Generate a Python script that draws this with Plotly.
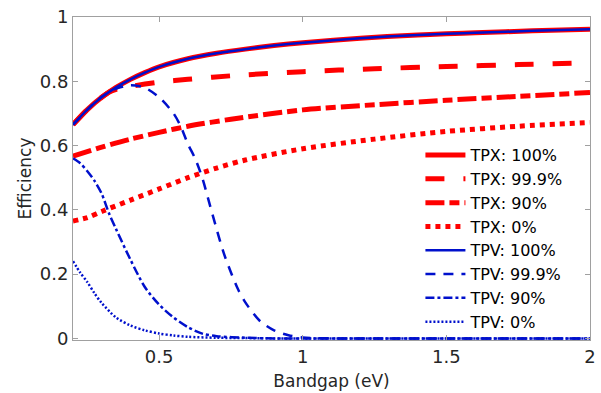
import plotly.graph_objects as go

# ---- data ----
tpx100_x = [0.2, 0.25, 0.3, 0.35, 0.4, 0.45, 0.5, 0.6, 0.7, 0.8, 0.9, 1.0, 1.2, 1.4, 1.5, 1.6, 1.8, 2.0]
tpx100_y = [0.665, 0.712, 0.750, 0.781, 0.806, 0.827, 0.845, 0.870, 0.887, 0.900, 0.911, 0.920, 0.934, 0.944, 0.948, 0.951, 0.957, 0.962]

tpx999_x = [0.2, 0.25, 0.3, 0.33, 0.36, 0.4, 0.5, 0.6, 0.75, 1.0, 1.25, 1.5, 1.75, 2.0]
tpx999_y = [0.665, 0.712, 0.750, 0.768, 0.777, 0.784, 0.797, 0.806, 0.817, 0.830, 0.839, 0.846, 0.852, 0.857]

tpx90_x = [0.2, 0.3, 0.4, 0.5, 0.6, 0.75, 1.0, 1.25, 1.5, 1.75, 2.0]
tpx90_y = [0.567, 0.595, 0.62, 0.641, 0.66, 0.682, 0.711, 0.727, 0.741, 0.753, 0.765]

tpx0_x = [0.2, 0.25, 0.3, 0.4, 0.5, 0.6, 0.7, 0.8, 1.0, 1.25, 1.5, 1.75, 2.0]
tpx0_y = [0.365, 0.376, 0.395, 0.43, 0.465, 0.5, 0.53, 0.555, 0.59, 0.62, 0.644, 0.66, 0.672]

tpv100_x = [0.2, 0.25, 0.3, 0.35, 0.4, 0.45, 0.5, 0.6, 0.7, 0.8, 0.9, 1.0, 1.2, 1.4, 1.5, 1.6, 1.8, 2.0]
tpv100_y = [0.665, 0.712, 0.750, 0.781, 0.806, 0.827, 0.845, 0.870, 0.887, 0.900, 0.911, 0.920, 0.934, 0.944, 0.948, 0.951, 0.957, 0.962]

tpv999_x = [0.2, 0.25, 0.3, 0.35, 0.4, 0.45, 0.5, 0.55, 0.575, 0.6, 0.625, 0.65, 0.675, 0.7, 0.725, 0.75, 0.775, 0.8, 0.85, 0.9, 0.95, 1.0, 1.1, 1.25, 1.5, 1.75, 2.0]
tpv999_y = [0.665, 0.712, 0.752, 0.777, 0.788, 0.78, 0.75, 0.70, 0.66, 0.605, 0.56, 0.50, 0.42, 0.34, 0.265, 0.205, 0.152, 0.112, 0.055, 0.025, 0.01, 0.003, 0.0, 0.0, 0.0, 0.0, 0.0]

tpv90_x = [0.2, 0.225, 0.25, 0.275, 0.3, 0.325, 0.35, 0.4, 0.45, 0.5, 0.55, 0.6, 0.65, 0.7, 0.8, 0.9, 1.25, 1.5, 1.75, 2.0]
tpv90_y = [0.56, 0.545, 0.52, 0.49, 0.45, 0.39, 0.34, 0.245, 0.16, 0.105, 0.065, 0.035, 0.015, 0.007, 0.002, 0.0, 0.0, 0.0, 0.0, 0.0]

tpv0_x = [0.2, 0.225, 0.25, 0.275, 0.3, 0.35, 0.4, 0.45, 0.5, 0.55, 0.6, 0.7, 0.8, 0.9, 1.25, 1.5, 1.75, 2.0]
tpv0_y = [0.24, 0.205, 0.175, 0.14, 0.11, 0.065, 0.04, 0.025, 0.015, 0.009, 0.005, 0.002, 0.001, 0.0, 0.0, 0.0, 0.0, 0.0]

x_tick_vals = [0.5, 1, 1.5, 2]
x_tick_text = ["0.5", "1", "1.5", "2"]
y_tick_vals = [0, 0.2, 0.4, 0.6, 0.8, 1]
y_tick_text = ["0", "0.2", "0.4", "0.6", "0.8", "1"]

RED = "#FF0000"
BLUE = "#0010CC"

series = [
    ("TPX: 100%", tpx100_x, tpx100_y, RED, 5, "solid"),
    ("TPX: 99.9%", tpx999_x, tpx999_y, RED, 5, "19px,19px"),
    ("TPX: 90%", tpx90_x, tpx90_y, RED, 5, "19px,5px,10px,5px"),
    ("TPX: 0%", tpx0_x, tpx0_y, RED, 5, "5px,5px"),
    ("TPV: 100%", tpv100_x, tpv100_y, BLUE, 2.5, "solid"),
    ("TPV: 99.9%", tpv999_x, tpv999_y, BLUE, 2.5, "10px,8px"),
    ("TPV: 90%", tpv90_x, tpv90_y, BLUE, 2.5, "9px,3px,3px,3px"),
    ("TPV: 0%", tpv0_x, tpv0_y, BLUE, 2.5, "2px,2px"),
]

fig = go.Figure()
for name, xs, ys, col, w, dash in series:
    fig.add_trace(go.Scatter(
        x=xs, y=ys, mode="lines", name=name,
        line=dict(color=col, width=w, dash=dash, shape="spline", smoothing=0.8),
    ))

FONT = "DejaVu Sans"
AX = "#A0A0A0"
TXT = "#262626"

fig.update_layout(
    width=601, height=393,
    margin=dict(l=73, r=11, t=17, b=53, autoexpand=False),
    paper_bgcolor="white", plot_bgcolor="white",
    font=dict(family=FONT, size=17, color=TXT),
    showlegend=True,
    legend=dict(
        x=0.672, y=0.625, xanchor="left", yanchor="top",
        bgcolor="rgba(255,255,255,0)", borderwidth=0,
        font=dict(family=FONT, size=16, color="#000000"),
        itemwidth=40, tracegroupgap=0,
    ),
    xaxis=dict(
        range=[0.2, 2], tickmode="array", tickvals=x_tick_vals, ticktext=x_tick_text,
        automargin=False,
        showgrid=False, zeroline=False, showline=True, linecolor=AX, linewidth=1,
        mirror="allticks", ticks="inside", ticklen=5, tickcolor=AX,
        tickfont=dict(family=FONT, size=18, color=TXT),
        title=dict(text="Bandgap (eV)", font=dict(family=FONT, size=17, color=TXT), standoff=9),
    ),
    yaxis=dict(
        range=[-0.005, 1], tickmode="array", tickvals=y_tick_vals, ticktext=y_tick_text,
        automargin=False,
        showgrid=False, zeroline=False, showline=True, linecolor=AX, linewidth=1,
        mirror="allticks", ticks="inside", ticklen=5, tickcolor=AX,
        tickfont=dict(family=FONT, size=18, color=TXT),
        title=dict(text="Efficiency", font=dict(family=FONT, size=17, color=TXT), standoff=3),
    ),
)

fig.write_html("out.html")
